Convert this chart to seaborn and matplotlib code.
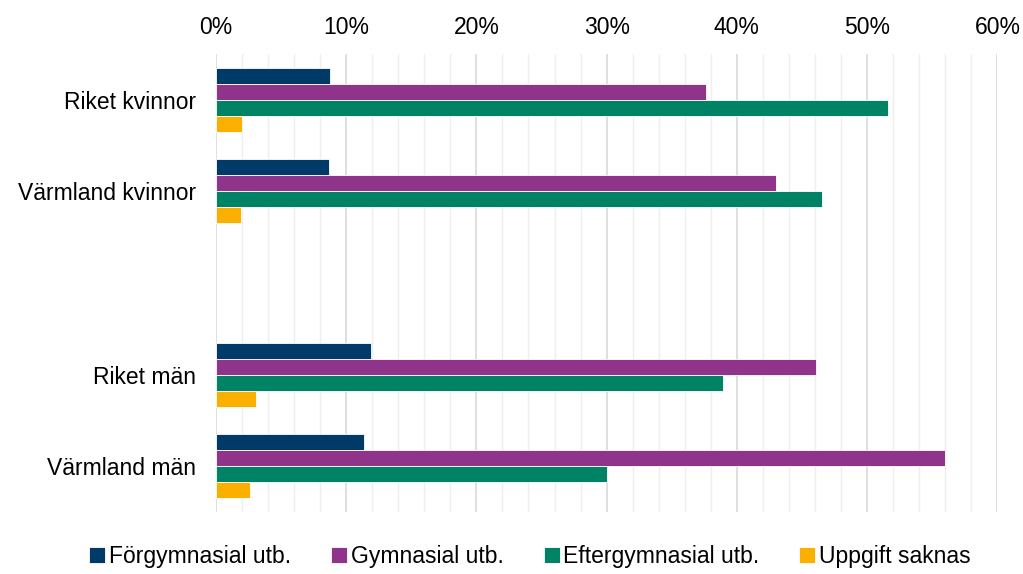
import matplotlib
matplotlib.use("Agg")
import matplotlib.pyplot as plt
from matplotlib.ticker import MultipleLocator, PercentFormatter
import seaborn as sns
import pandas as pd

categories = ["Riket kvinnor", "Värmland kvinnor", " ", "Riket män", "Värmland män"]
series = ["Förgymnasial utb.", "Gymnasial utb.", "Eftergymnasial utb.", "Uppgift saknas"]
colors = ["#003A68", "#90338B", "#008264", "#FBB000"]

groups = ["Riket kvinnor", "Värmland kvinnor", "Riket män", "Värmland män"]
forgymnasial = [8.8, 8.7, 11.9, 11.4]
gymnasial = [37.6, 43.0, 46.1, 56.0]
eftergymnasial = [51.6, 46.5, 38.9, 30.0]
uppgift_saknas = [2.0, 1.9, 3.1, 2.6]


def build_frame():
    rows = []
    for name, vals in zip(series, [forgymnasial, gymnasial, eftergymnasial, uppgift_saknas]):
        for g, v in zip(groups, vals):
            rows.append({"grupp": g, "serie": name, "andel": v})
    return pd.DataFrame(rows)


def main():
    sns.set_theme(style = "white")
    plt.rcParams["font.family"] = ["Liberation Sans", "DejaVu Sans"]

    df = build_frame()

    fig = plt.figure(figsize = (10.23, 5.74), dpi = 100)
    ax = fig.add_axes([0.211, 0.108, 0.764, 0.798])

    sns.barplot(
        data = df, y = "grupp", x = "andel", hue = "serie",
        order = categories, hue_order = series, palette = colors,
        orient = "h", width = 0.7, saturation = 1,
        edgecolor = "white", linewidth = 0.6, ax = ax,
    )

    ax.set_xlim(0, 60)
    ax.xaxis.set_major_locator(MultipleLocator(10))
    ax.xaxis.set_minor_locator(MultipleLocator(2))
    ax.xaxis.set_major_formatter(PercentFormatter(decimals = 0))
    ax.xaxis.tick_top()
    ax.tick_params(axis = "x", which = "both", length = 0, labelsize = 16.5, pad = 11,
                   labelcolor = "#000000")
    ax.tick_params(axis = "y", length = 0, labelsize = 16.5, pad = 14, labelcolor = "#000000")
    ax.grid(axis = "x", which = "major", color = "#D9D9D9", linewidth = 1.2)
    ax.grid(axis = "x", which = "minor", color = "#EEEEEE", linewidth = 1.0)
    ax.set_axisbelow(True)
    for s in ax.spines.values():
        s.set_visible(False)
    ax.set_xlabel("")
    ax.set_ylabel("")

    ax.legend_.remove()
    handles, labels = ax.get_legend_handles_labels()
    leg = fig.legend(
        handles, labels, loc = "lower center", bbox_to_anchor = (0.518, -0.025),
        ncol = 4, frameon = False, fontsize = 16.5,
        handlelength = 0.7, handleheight = 0.7, handletextpad = 0.15,
        columnspacing = 1.75,
    )
    for t in leg.get_texts():
        t.set_color("#000000")

    fig.savefig("out.png", dpi = 100)
    plt.close(fig)


if __name__ == "__main__":
    main()
